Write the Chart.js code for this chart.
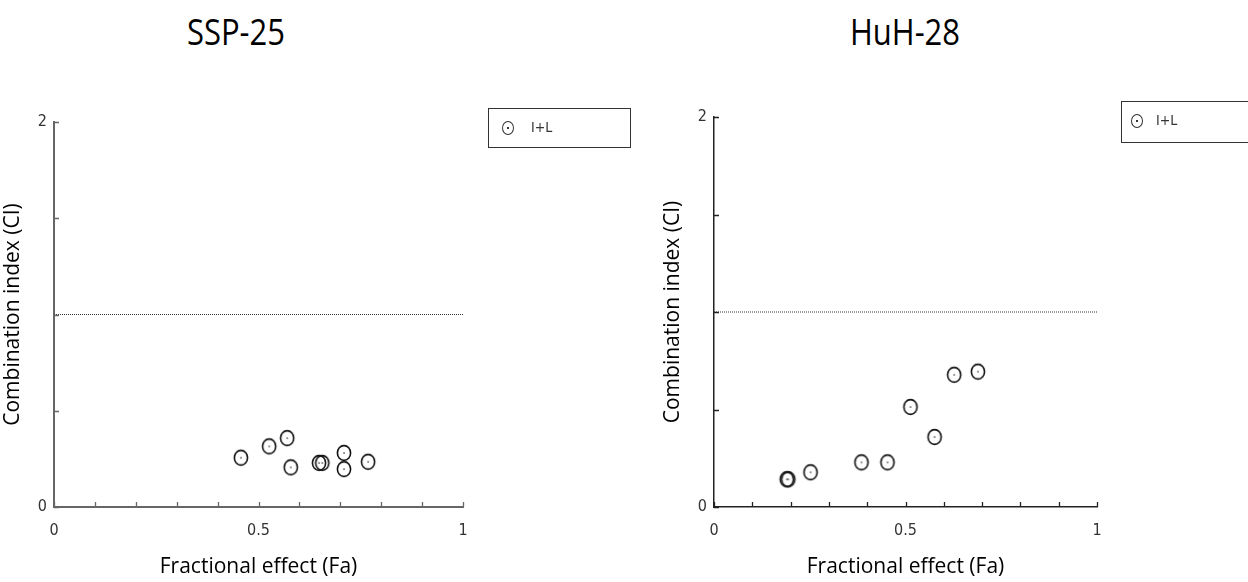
<!DOCTYPE html>
<html>
<head>
<meta charset="utf-8">
<script src="https://cdn.jsdelivr.net/npm/chart.js@4/dist/chart.umd.min.js"></script>
<style>
  html, body { margin: 0; padding: 0; background: #fff; }
  body { width: 1248px; height: 582px; position: relative; overflow: hidden; }
  canvas { position: absolute; top: 0; }
  .title { position: absolute; top: 12px; font-family: 'Open Sans', Lato, sans-serif; font-size: 36px; color: #000; transform: translateX(-50%) scaleX(0.86); white-space: nowrap; line-height: 1.1; }
  .legend { position: absolute; border: 1.5px solid #333; box-sizing: border-box; font-family: 'DejaVu Sans Condensed', 'Liberation Sans Narrow', sans-serif; font-size: 14px; color: #333; }
  .legend .mk { position: absolute; width: 12px; height: 14px; border: 1.4px solid #333; border-radius: 50%; box-sizing: border-box; }
  .legend .mk::after { content: ''; position: absolute; left: 4px; top: 5px; width: 1.5px; height: 1.5px; background: #333; }
  .legend .txt { position: absolute; }
</style>
</head>
<body>
<div class="title" style="left:236px">SSP-25</div>
<div class="title" style="left:905px">HuH-28</div>
<canvas id="left" width="624" height="582" style="left:0"></canvas>
<canvas id="right" width="624" height="582" style="left:624px"></canvas>
<div class="legend" style="left:488px;top:108px;width:143px;height:40px">
  <span class="mk" style="left:13px;top:12px"></span><span class="txt" style="left:42px;top:10px">I+L</span>
</div>
<div class="legend" style="left:1121px;top:101px;width:140px;height:42px">
  <span class="mk" style="left:9px;top:12px"></span><span class="txt" style="left:34px;top:10px">I+L</span>
</div>
<script>
// values
var leftFa = [0.457, 0.526, 0.570, 0.579, 0.648, 0.656, 0.709, 0.709, 0.768];
var leftCi = [0.256, 0.315, 0.358, 0.206, 0.229, 0.229, 0.281, 0.197, 0.235];
var rightFa = [0.190, 0.194, 0.252, 0.385, 0.453, 0.513, 0.576, 0.627, 0.689];
var rightCi = [0.142, 0.142, 0.178, 0.229, 0.229, 0.513, 0.359, 0.678, 0.694];
var xLabels = ['0', '0.5', '1'];
var yLabels = ['0', '2'];
var additiveLine = 1;

// open circle with a dot in the middle, as drawn by CompuSyn
var marker = document.createElement('canvas');
marker.width = 18;
marker.height = 20;
(function () {
    var c = marker.getContext('2d');
    c.strokeStyle = '#111';
    c.lineWidth = 1.6;
    c.beginPath();
    c.ellipse(9, 10, 6.6, 7.4, 0, 0, Math.PI * 2);
    c.stroke();
    c.fillStyle = '#111';
    c.fillRect(8.4, 9.4, 1.3, 1.3);
})();

// small ticks drawn inward from the axes
var inwardTicks = {
    id: 'inwardTicks',
    afterDraw: function (chart) {
        var ctx = chart.ctx, a = chart.chartArea;
        var xs = chart.scales.x, ys = chart.scales.y;
        ctx.save();
        ctx.strokeStyle = chart.options.axisColor;
        ctx.lineWidth = 1.3;
        ctx.beginPath();
        xs.ticks.forEach(function (t) {
            var px = Math.round(xs.getPixelForValue(t.value)) + 0.5;
            ctx.moveTo(px, a.bottom);
            ctx.lineTo(px, a.bottom - 5);
        });
        ys.ticks.forEach(function (t) {
            var py = Math.round(ys.getPixelForValue(t.value)) + 0.5;
            ctx.moveTo(a.left, py);
            ctx.lineTo(a.left + 5, py);
        });
        ctx.stroke();
        ctx.restore();
    }
};

function labelFor(list) {
    return function (v) {
        for (var i = 0; i < list.length; i++) {
            if (Math.abs(v - parseFloat(list[i])) < 1e-6) return list[i];
        }
        return '';
    };
}

function makePanel(id, fa, ci, pad, axisColor, axisWidth) {
    var pts = fa.map(function (x, i) { return { x: x, y: ci[i] }; });
    var tickFont = { family: "'DejaVu Sans Condensed', 'Liberation Sans Narrow', sans-serif", size: 16 };
    var titleFont = { family: "'Open Sans', Lato, sans-serif", size: 21 };
    new Chart(document.getElementById(id), {
        type: 'scatter',
        data: {
            datasets: [
                {
                    label: 'I+L',
                    data: pts,
                    pointStyle: marker,
                    pointRadius: 7
                },
                {
                    label: 'CI = 1',
                    type: 'line',
                    data: [{ x: 0, y: additiveLine }, { x: 1, y: additiveLine }],
                    borderColor: '#333',
                    borderWidth: 1,
                    borderDash: [1, 1],
                    pointRadius: 0
                }
            ]
        },
        options: {
            responsive: false,
            animation: false,
            axisColor: axisColor,
            layout: { padding: pad },
            plugins: {
                legend: { display: false },
                tooltip: { enabled: false }
            },
            scales: {
                x: {
                    type: 'linear',
                    min: 0,
                    max: 1,
                    grid: { display: false, drawTicks: false },
                    border: { display: true, color: axisColor, width: axisWidth },
                    ticks: {
                        stepSize: 0.1,
                        autoSkip: false,
                        maxRotation: 0,
                        padding: 14,
                        color: '#333',
                        font: tickFont,
                        callback: labelFor(xLabels)
                    },
                    title: { display: true, text: 'Fractional effect (Fa)', color: '#000', font: titleFont, padding: { top: 4, bottom: 2 } },
                    afterFit: function (s) { s.height = 75; }
                },
                y: {
                    min: 0,
                    max: 2,
                    grid: { display: false, drawTicks: false },
                    border: { display: true, color: axisColor, width: axisWidth },
                    ticks: {
                        stepSize: 0.5,
                        autoSkip: false,
                        padding: 7,
                        color: '#333',
                        font: tickFont,
                        callback: labelFor(yLabels)
                    },
                    title: { display: true, text: 'Combination index (CI)', color: '#000', font: titleFont, padding: { top: 0, bottom: 8 } },
                    afterFit: function (s) { s.width = 54; }
                }
            }
        },
        plugins: [inwardTicks]
    });
}

makePanel('left', leftFa, leftCi, { left: 0, right: 161, top: 122, bottom: 0 }, '#666', 2);
makePanel('right', rightFa, rightCi, { left: 36, right: 151, top: 117, bottom: 0 }, '#222', 1.5);
</script>
</body>
</html>
